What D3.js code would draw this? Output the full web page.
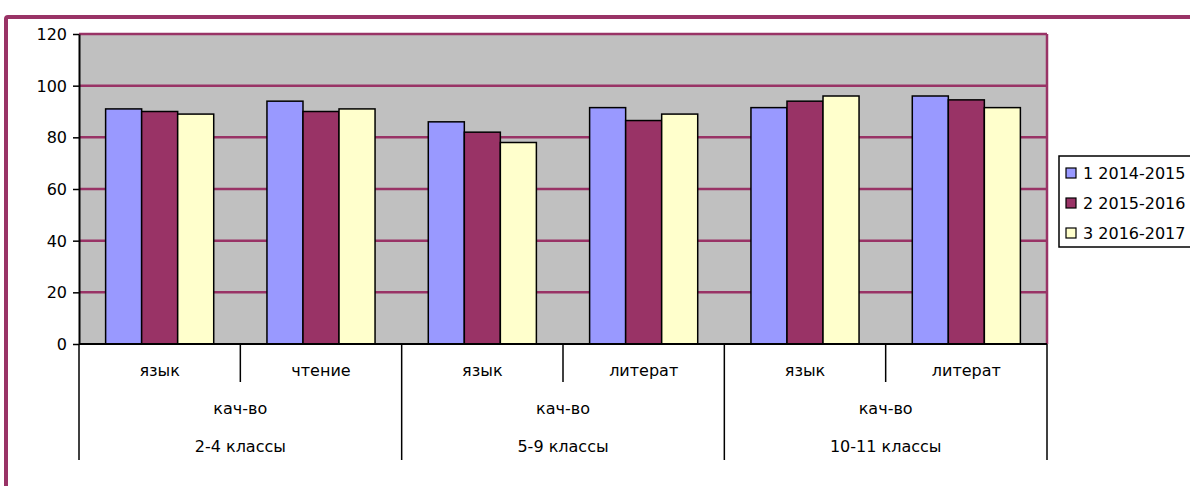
<!DOCTYPE html>
<html>
<head>
<meta charset="utf-8">
<script src="https://cdn.jsdelivr.net/npm/d3@7/dist/d3.min.js"></script>
<style>
  body { margin: 0; background: #fff; }
  text { font-family: "DejaVu Sans", sans-serif; font-size: 16px; fill: #000; }
</style>
</head>
<body>
<div id="chart"></div>
<script>
// data
var subjects = ["язык", "чтение", "язык", "литерат", "язык", "литерат"];
var measures = ["кач-во", "кач-во", "кач-во"];
var grades = ["2-4 классы", "5-9 классы", "10-11 классы"];
var seriesNames = ["1 2014-2015", "2 2015-2016", "3 2016-2017"];
var s1 = [91, 94, 86, 91.5, 91.5, 96];
var s2 = [90, 90, 82, 86.5, 94, 94.5];
var s3 = [89, 91, 78, 89, 96, 91.5];
var yTicks = [0, 20, 40, 60, 80, 100, 120];

var colors = ["#9999ff", "#993366", "#ffffcc"];
var plum = "#993366";

var width = 1190, height = 486;
var svg = d3.select("#chart").append("svg").attr("width", width).attr("height", height);

// outer chart frame (runs off the right and bottom edge)
svg.append("rect")
    .attr("x", 6).attr("y", 17)
    .attr("width", 1300).attr("height", 600)
    .attr("rx", 2)
    .style("fill", "#fff")
    .style("stroke", plum)
    .style("stroke-width", 4);

var plotLeft = 79, plotRight = 1047, plotTop = 34, plotBottom = 344;

var x0 = d3.scaleBand().domain(d3.range(subjects.length)).range([plotLeft, plotRight]).padding(0);
var gap = x0.bandwidth() * 0.33;
var x1 = d3.scaleBand().domain([0, 1, 2]).range([gap / 2, x0.bandwidth() - gap / 2]).padding(0);
var y = d3.scaleLinear().domain([0, 120]).range([plotBottom, plotTop]);

// plot area
svg.append("rect")
    .attr("x", plotLeft).attr("y", plotTop)
    .attr("width", plotRight - plotLeft).attr("height", plotBottom - plotTop)
    .style("fill", "#c0c0c0");

// gridlines
svg.append("g").selectAll("line")
    .data(yTicks.filter(function(d) { return d > 0; }))
    .enter().append("line")
    .attr("x1", plotLeft).attr("x2", plotRight)
    .attr("y1", function(d) { return y(d); })
    .attr("y2", function(d) { return y(d); })
    .style("stroke", plum)
    .style("stroke-width", 2.5);

// right border of plot area
svg.append("line")
    .attr("x1", plotRight).attr("x2", plotRight)
    .attr("y1", plotTop).attr("y2", plotBottom)
    .style("stroke", plum)
    .style("stroke-width", 2.5);

// bars
var series = [s1, s2, s3];
var rows = [];
subjects.forEach(function(c, i) {
    series.forEach(function(s, j) {
        rows.push({cat: i, ser: j, value: s[i]});
    });
});

svg.append("g").selectAll("rect")
    .data(rows)
    .enter().append("rect")
    .attr("x", function(d) { return x0(d.cat) + x1(d.ser); })
    .attr("y", function(d) { return y(d.value); })
    .attr("width", x1.bandwidth())
    .attr("height", function(d) { return plotBottom - y(d.value); })
    .style("fill", function(d) { return colors[d.ser]; })
    .style("stroke", "#000")
    .style("stroke-width", 1.5);

// y axis
var yAxis = d3.axisLeft(y).tickValues(yTicks).tickSize(6).tickSizeOuter(0).tickPadding(6);
var ya = svg.append("g").attr("transform", "translate(" + plotLeft + ",0)").call(yAxis);
ya.select(".domain").style("stroke", "#000").style("stroke-width", 2);
ya.selectAll(".tick line").style("stroke", "#000").style("stroke-width", 1.5);
ya.selectAll(".tick text").style("font-family", "DejaVu Sans").style("font-size", "16px").attr("dy", "0.35em");

// x axis line
svg.append("line")
    .attr("x1", plotLeft).attr("x2", plotRight)
    .attr("y1", plotBottom).attr("y2", plotBottom)
    .style("stroke", "#000")
    .style("stroke-width", 2);

// category dividers: short between subjects, long between grade groups
var edges = d3.range(subjects.length + 1);
svg.append("g").selectAll("line")
    .data(edges)
    .enter().append("line")
    .attr("x1", function(i) { return i < subjects.length ? x0(i) : plotRight; })
    .attr("x2", function(i) { return i < subjects.length ? x0(i) : plotRight; })
    .attr("y1", plotBottom)
    .attr("y2", function(i) { return i % 2 == 0 ? 460 : 382; })
    .style("stroke", "#000")
    .style("stroke-width", 1.5);

svg.append("g").selectAll("text")
    .data(subjects)
    .enter().append("text")
    .attr("x", function(d, i) { return x0(i) + x0.bandwidth() / 2; })
    .attr("y", 376)
    .attr("text-anchor", "middle")
    .text(function(d) { return d; });

svg.append("g").selectAll("text")
    .data(measures)
    .enter().append("text")
    .attr("x", function(d, i) { return x0(i * 2) + x0.bandwidth(); })
    .attr("y", 414)
    .attr("text-anchor", "middle")
    .text(function(d) { return d; });

svg.append("g").selectAll("text")
    .data(grades)
    .enter().append("text")
    .attr("x", function(d, i) { return x0(i * 2) + x0.bandwidth(); })
    .attr("y", 452)
    .attr("text-anchor", "middle")
    .text(function(d) { return d; });

// legend
var lg = svg.append("g").attr("transform", "translate(1059,156)");
lg.append("rect")
    .attr("width", 160).attr("height", 91)
    .style("fill", "#fff")
    .style("stroke", "#000")
    .style("stroke-width", 1.5);

var items = lg.selectAll("g.item")
    .data(seriesNames)
    .enter().append("g")
    .attr("class", "item")
    .attr("transform", function(d, i) { return "translate(0," + (17 + i * 30) + ")"; });

items.append("rect")
    .attr("x", 7).attr("y", -5)
    .attr("width", 10).attr("height", 10)
    .style("fill", function(d, i) { return colors[i]; })
    .style("stroke", "#000")
    .style("stroke-width", 1.2);

items.append("text")
    .attr("x", 24).attr("dy", "0.35em")
    .text(function(d) { return d; });
</script>
</body>
</html>
